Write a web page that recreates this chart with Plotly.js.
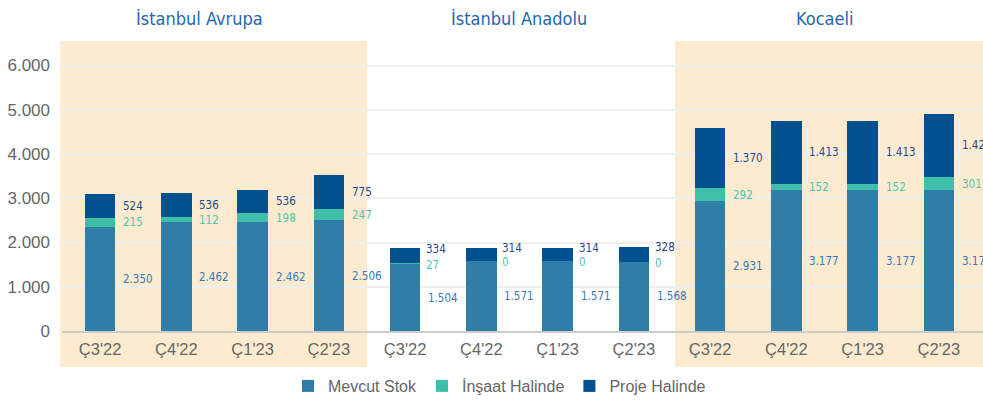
<!DOCTYPE html>
<html>
<head>
<meta charset="utf-8">
<script src="https://cdn.plot.ly/plotly-3.0.1.min.js"></script>
<style>html,body{margin:0;padding:0;background:#fff;}#chart{width:983px;height:403px;}</style>
</head>
<body>
<div id="chart"></div>
<script>
// ---- data ----
const quarters = ["Ç3'22", "Ç4'22", "Ç1'23", "Ç2'23"];
const regions = ["İstanbul Avrupa", "İstanbul Anadolu", "Kocaeli"];
const tickLabels = [].concat(quarters, quarters, quarters);
const mevcutStok = [2350, 2462, 2462, 2506, 1504, 1571, 1571, 1568, 2931, 3177, 3177, 3179];
const insaatHalinde = [215, 112, 198, 247, 27, 0, 0, 0, 292, 152, 152, 301];
const projeHalinde = [524, 536, 536, 775, 334, 314, 314, 328, 1370, 1413, 1413, 1429];
const seriesNames = ["Mevcut Stok", "İnşaat Halinde", "Proje Halinde"];
const yTicks = [0, 1000, 2000, 3000, 4000, 5000, 6000];

// ---- style ----
const colors = ["#2e7ea8", "#3fbfa8", "#03508f"];
const labelColors = ["#3a78b8", "#4fc4ad", "#1f4a88"];
const narrow = "'Liberation Sans Narrow', 'DejaVu Sans Condensed', 'Roboto', sans-serif";
const regular = "'Liberation Sans', Arial, sans-serif";

const xs = tickLabels.map((_, i) => i);

function fmt(v) {
  return String(v).replace(/\B(?=(\d{3})+(?!\d))/g, '.');
}

const traces = [mevcutStok, insaatHalinde, projeHalinde].map((vals, k) => ({
  type: 'bar',
  x: xs,
  y: vals,
  name: seriesNames[k],
  marker: {color: colors[k], line: {width: 0}},
  hoverinfo: 'skip'
}));

const annotations = [];
// value labels
xs.forEach(i => {
  const m = mevcutStok[i], n = insaatHalinde[i], p = projeHalinde[i];
  const anadolu = (i >= 4 && i <= 7);
  annotations.push({x: i, y: m / 2, xref: 'x', yref: 'y', text: fmt(m), showarrow: false,
    xanchor: 'left', yanchor: 'middle', xshift: 21,
    font: {family: narrow, size: 11.5, color: labelColors[0]}});
  annotations.push({x: i, y: m + n / 2, xref: 'x', yref: 'y', text: fmt(n), showarrow: false,
    xanchor: 'left', yanchor: 'middle', xshift: anadolu ? 19 : 21, yshift: anadolu ? -1 : 0,
    font: {family: narrow, size: 11.5, color: labelColors[1]}});
  annotations.push({x: i, y: m + n + p / 2, xref: 'x', yref: 'y', text: fmt(p), showarrow: false,
    xanchor: 'left', yanchor: 'middle', xshift: anadolu ? 19 : 21, yshift: anadolu ? 7 : 0,
    font: {family: narrow, size: 11.5, color: labelColors[2]}});
});
// group titles
const titleX = [1.3, 5.5, 9.5];
regions.forEach((r, g) => {
  annotations.push({x: titleX[g], y: 1.079, xref: 'x', yref: 'paper', text: r, showarrow: false,
    xanchor: 'center', yanchor: 'middle',
    font: {family: narrow, size: 18, color: '#2466b2'}});
});

const layout = {
  width: 983, height: 403,
  margin: {l: 62, r: 0, t: 41, b: 72, pad: 0},
  paper_bgcolor: '#ffffff',
  plot_bgcolor: 'rgba(0,0,0,0)',
  separators: ',.',
  barmode: 'stack',
  bargap: 0.6,
  showlegend: true,
  legend: {orientation: 'h', x: 0.475, xanchor: 'center', y: -0.19, yanchor: 'middle',
    font: {family: regular, size: 16, color: '#666666'}, traceorder: 'normal', itemclick: false},
  xaxis: {
    range: [-0.5, 11.579], tickmode: 'array', tickvals: xs, ticktext: tickLabels,
    showgrid: false, zeroline: false, showline: true, linecolor: '#cccccc', linewidth: 2,
    ticks: '', ticklabelstandoff: 2,
    tickfont: {family: regular, size: 16.5, color: '#666666'}, fixedrange: true
  },
  yaxis: {
    range: [0, 6554], tickmode: 'array', tickvals: yTicks, tickformat: ',d',
    showgrid: true, gridcolor: '#eeeeee', gridwidth: 2, zeroline: false, showline: false,
    ticks: '', ticklabelstandoff: 11,
    tickfont: {family: regular, size: 17, color: '#666666'}, fixedrange: true
  },
  shapes: [
    {type: 'rect', xref: 'paper', yref: 'paper', x0: -0.002, x1: 0.3312, y0: -0.124, y1: 1,
      fillcolor: '#fdebd0', line: {width: 0}, layer: 'below'},
    {type: 'rect', xref: 'paper', yref: 'paper', x0: 0.6656, x1: 1.0, y0: -0.124, y1: 1,
      fillcolor: '#fdebd0', line: {width: 0}, layer: 'below'}
  ],
  annotations: annotations
};

Plotly.newPlot('chart', traces, layout, {displayModeBar: false, staticPlot: true});
</script>
</body>
</html>
